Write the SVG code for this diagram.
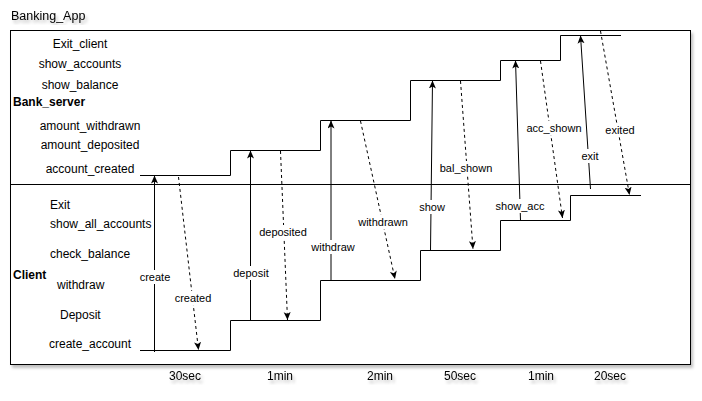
<svg xmlns="http://www.w3.org/2000/svg" width="702" height="401" viewBox="0 0 702 401">
<style>
text{font-family:"Liberation Sans",Arial,Helvetica,sans-serif;fill:#000}
.lane{font-size:12px}
.laneC{font-size:12px;text-anchor:middle}
.title{font-size:12px;font-weight:bold}
.el{font-size:11px;text-anchor:middle}
.tm{font-size:12px;text-anchor:middle}
.state{fill:none;stroke:#000;stroke-width:1}
.solid{fill:none;stroke:#000;stroke-width:1;marker-end:url(#arr)}
.dash{fill:none;stroke:#000;stroke-width:1;stroke-dasharray:3 3;marker-end:url(#arr)}
.bg{fill:#fff}
</style>
<defs>
<filter id="sh" x="-5%" y="-5%" width="110%" height="115%">
<feDropShadow dx="2" dy="3" stdDeviation="1.5" flood-color="#000" flood-opacity="0.25"/>
</filter>
<marker id="arr" markerUnits="userSpaceOnUse" markerWidth="10" markerHeight="10" refX="8" refY="3.5" orient="auto">
<path d="M0,0 L8,3.5 L0,7 L2,3.5 Z" fill="#000"/>
</marker>
</defs>
<rect width="702" height="401" fill="#fff"/>
<g id="title" filter="url(#sh)"><text x="11" y="20" style="font-size:12.5px">Banking_App</text></g>
<g id="frame">
<rect x="10.5" y="30.5" width="680" height="334" fill="#fff" stroke="#000" filter="url(#sh)"/>
<line x1="10.5" y1="184.5" x2="690.5" y2="184.5" stroke="#000"/>
</g>
<g id="bank_server">
<text class="title" x="13" y="106">Bank_server</text>
<text class="laneC" x="80" y="48">Exit_client</text>
<text class="laneC" x="80" y="68">show_accounts</text>
<text class="laneC" x="80" y="89">show_balance</text>
<text class="laneC" x="90" y="130">amount_withdrawn</text>
<text class="laneC" x="90" y="149">amount_deposited</text>
<text class="laneC" x="90" y="173">account_created</text>
<path class="state" d="M140,175.5 H230.5 V150.5 H320.5 V120.5 H410.5 V80.5 H500.5 V60.5 H560.5 V35.5 H621"/>
</g>
<g id="client">
<text class="title" x="13" y="279">Client</text>
<text class="lane" x="50" y="209">Exit</text>
<text class="lane" x="50" y="228">show_all_accounts</text>
<text class="lane" x="50" y="258">check_balance</text>
<text class="lane" x="57" y="289">withdraw</text>
<text class="lane" x="60" y="319">Deposit</text>
<text class="lane" x="49" y="348">create_account</text>
<path class="state" d="M140,350.5 H230.5 V320.5 H320.5 V280.5 H420.5 V250.5 H500.5 V220.5 H570.5 V195.5 H641"/>
</g>
<g id="connectors">
<line class="solid" x1="154.5" y1="352" x2="154.5" y2="175.5"/>
<line class="dash" x1="178.5" y1="177" x2="198.5" y2="350"/>
<line class="solid" x1="250.5" y1="320.5" x2="250.5" y2="150.5"/>
<line class="dash" x1="280.5" y1="151" x2="287.5" y2="320"/>
<line class="solid" x1="331" y1="280.5" x2="331" y2="120.5"/>
<line class="dash" x1="360.5" y1="121" x2="395" y2="279"/>
<line class="solid" x1="430.5" y1="250.5" x2="432.5" y2="80.5"/>
<line class="dash" x1="460.5" y1="81" x2="473" y2="249"/>
<line class="solid" x1="520.5" y1="220.5" x2="515.5" y2="60.5"/>
<line class="dash" x1="540.5" y1="61" x2="562.5" y2="218"/>
<line class="solid" x1="590.5" y1="189" x2="580.5" y2="35.5"/>
<line class="dash" x1="600.5" y1="31" x2="629.5" y2="195"/>
<g id="edge-labels">
<rect class="bg" x="139" y="270" width="32" height="14"/><text class="el" x="155" y="281">create</text>
<rect class="bg" x="174" y="291" width="38" height="14"/><text class="el" x="193" y="302">created</text>
<rect class="bg" x="233" y="266" width="37" height="14"/><text class="el" x="251" y="277">deposit</text>
<rect class="bg" x="259" y="225" width="49" height="14"/><text class="el" x="283" y="236">deposited</text>
<rect class="bg" x="311" y="240" width="45" height="14"/><text class="el" x="333" y="251">withdraw</text>
<rect class="bg" x="358" y="215" width="51" height="14"/><text class="el" x="383" y="226">withdrawn</text>
<rect class="bg" x="419" y="200" width="27" height="14"/><text class="el" x="432" y="211">show</text>
<rect class="bg" x="440" y="161" width="54" height="14"/><text class="el" x="466" y="172">bal_shown</text>
<rect class="bg" x="495" y="199" width="50" height="14"/><text class="el" x="520" y="210">show_acc</text>
<rect class="bg" x="526" y="121" width="56" height="14"/><text class="el" x="554" y="132">acc_shown</text>
<rect class="bg" x="581" y="149" width="19" height="14"/><text class="el" x="590" y="160">exit</text>
<rect class="bg" x="605" y="123" width="31" height="14"/><text class="el" x="620" y="134">exited</text>
</g>
</g>
<g id="time-labels" filter="url(#sh)">
<text class="tm" x="185" y="380">30sec</text>
<text class="tm" x="280" y="380">1min</text>
<text class="tm" x="380" y="380">2min</text>
<text class="tm" x="460" y="380">50sec</text>
<text class="tm" x="541" y="380">1min</text>
<text class="tm" x="610" y="380">20sec</text>
</g>
</svg>
